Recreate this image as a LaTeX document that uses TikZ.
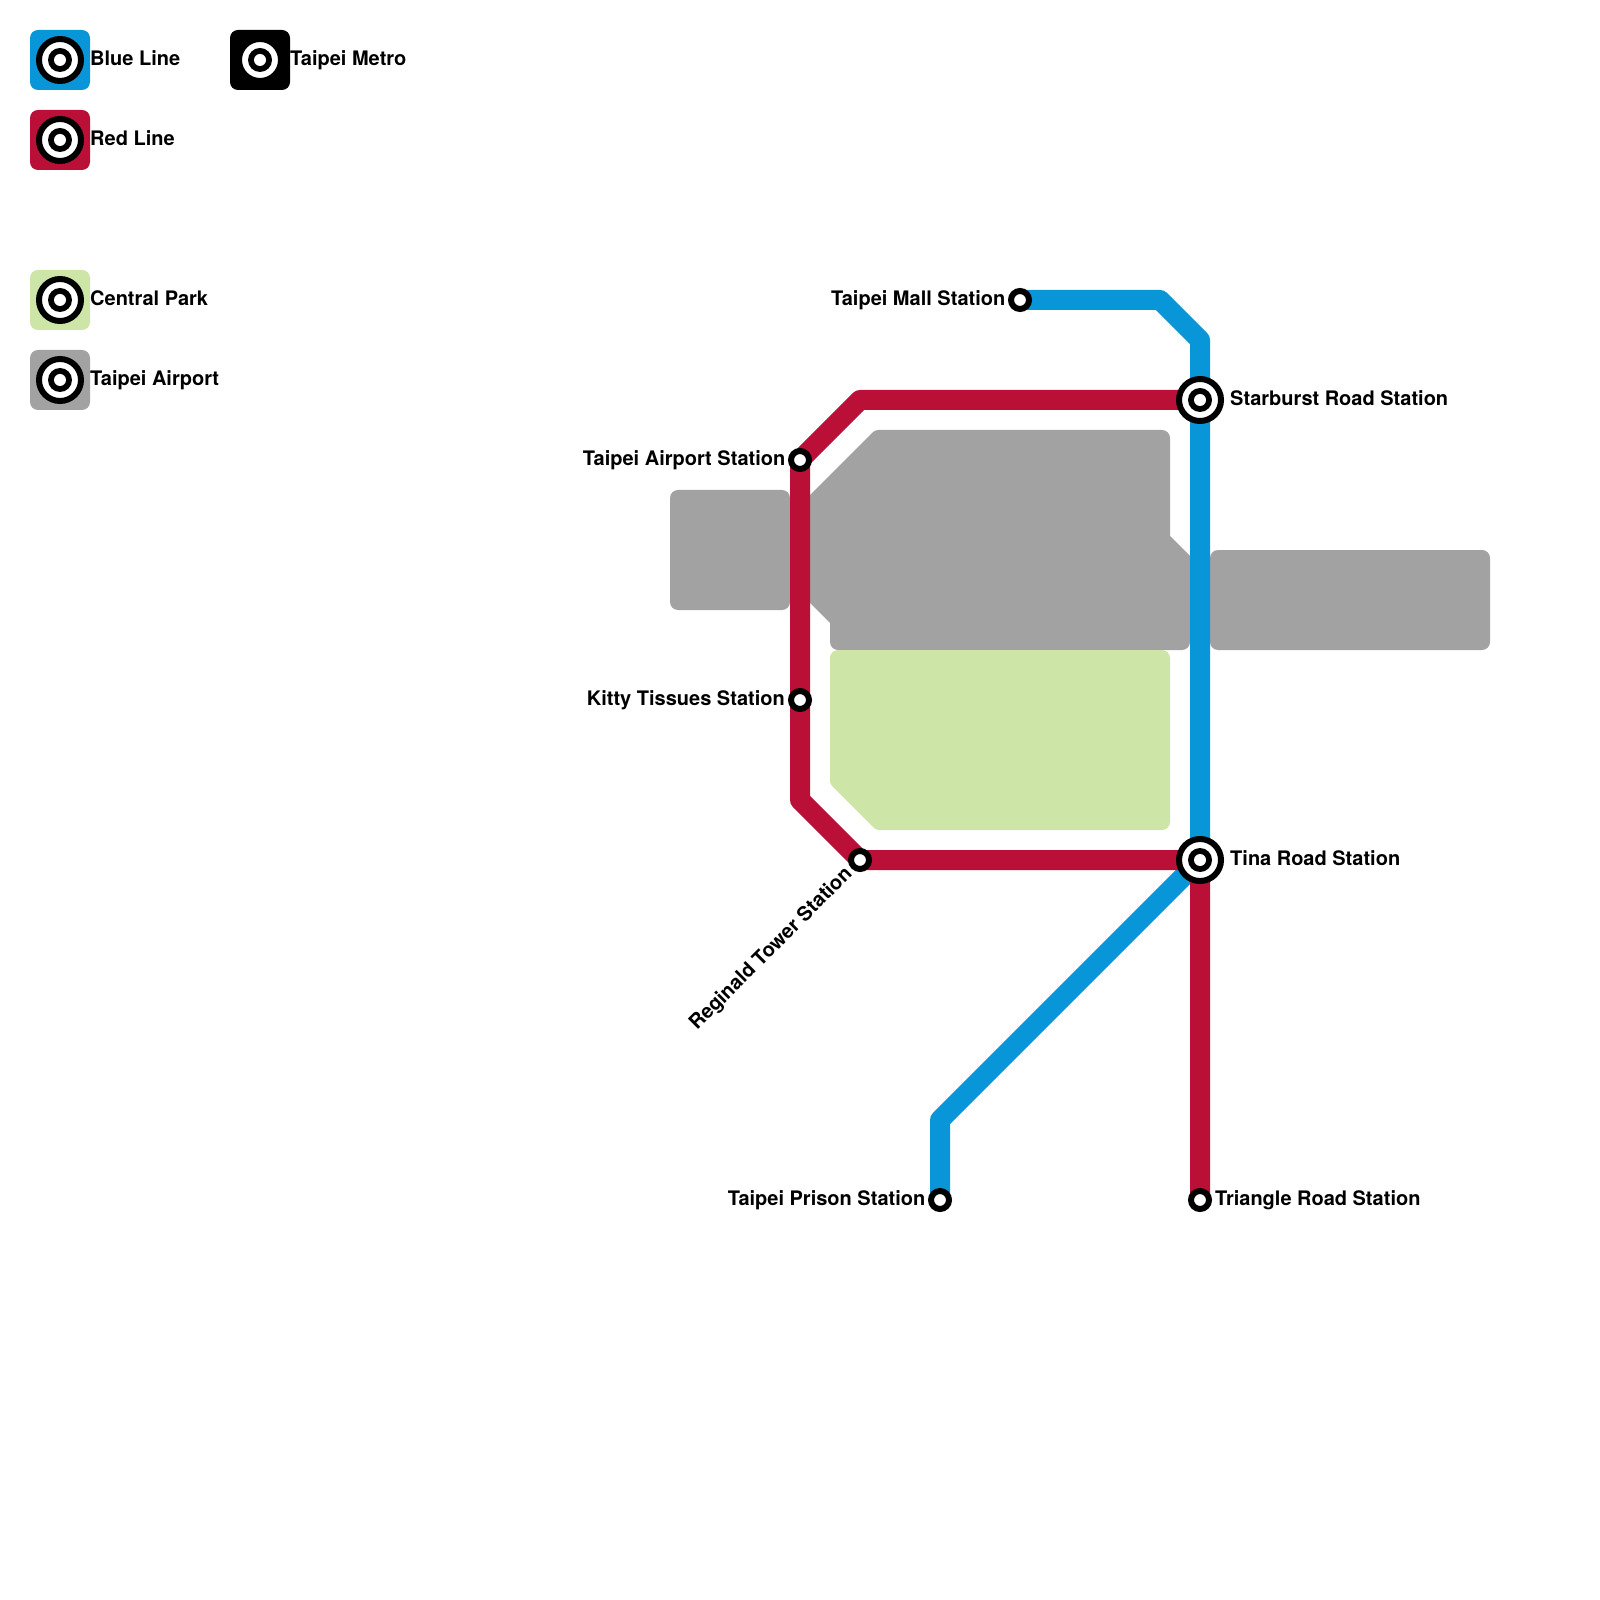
\documentclass[tikz,border=0pt]{standalone}
\usepackage{fontspec}
\setmainfont{TeX Gyre Heros}
\usetikzlibrary{backgrounds}
\definecolor{lineblue}{HTML}{0996D8}
\definecolor{linered}{HTML}{BA1038}
\definecolor{parkgreen}{HTML}{CDE5A6}
\definecolor{airportgray}{HTML}{A2A2A2}
\begin{document}
\begin{tikzpicture}[
  font=\fontsize{5.69pt}{6.8pt}\selectfont\bfseries,
  key/.style={rectangle, rounded corners=0.08cm, minimum size=0.6cm, inner sep=0pt},
  hub/.style={circle, draw=black, line width=0.06cm, fill=white, minimum size=0.42cm, inner sep=0pt,
              path picture={\fill[black] (path picture bounding box.center) circle (0.12);
                            \fill[white] (path picture bounding box.center) circle (0.06);}},
  stop/.style={circle, draw=black, line width=0.06cm, fill=white, minimum size=0.18cm, inner sep=0pt},
  lbl/.style={inner sep=0pt, anchor=base west},
  lblr/.style={inner sep=0pt, anchor=base east},
  track/.style={line width=0.2cm, line join=round},
  area/.style={rounded corners=0.08cm}
]
\useasboundingbox (0,0) rectangle (16,-16);
% legend, lines on the left and areas below them
\node[key, fill=lineblue]    (kblue) at (0.6,-0.6) {};
\node[key, fill=linered]     (kred)  at (0.6,-1.4) {};
\node[key, fill=black]       (kmetro) at (2.6,-0.6) {};
\node[key, fill=parkgreen]   (kpark) at (0.6,-3.0) {};
\node[key, fill=airportgray] (kair)  at (0.6,-3.8) {};
\node[hub] (hblue)  at (kblue)  {};
\node[hub] (hred)   at (kred)   {};
\node[hub] (hmetro) at (kmetro) {};
\node[hub] (hpark)  at (kpark)  {};
\node[hub] (hair)   at (kair)   {};
\node[lbl] (tblue)  at (0.895,-0.653) {Blue Line};
\node[lbl] (tred)   at (0.895,-1.453) {Red Line};
\node[lbl] (tmetro) at (2.895,-0.653) {Taipei Metro};
\node[lbl] (tpark)  at (0.895,-3.053) {Central Park};
\node[lbl] (tair)   at (0.895,-3.853) {Taipei Airport};
% stations
\node[stop] (mall)     at (10.2,-3.0)  {};
\node[hub]  (starburst) at (12.0,-4.0) {};
\node[stop] (airport)  at (8.0,-4.6)   {};
\node[stop] (kitty)    at (8.0,-7.0)   {};
\node[stop] (reginald) at (8.6,-8.6)   {};
\node[hub]  (tina)     at (12.0,-8.6)  {};
\node[stop] (prison)   at (9.4,-12.0)  {};
\node[stop] (triangle) at (12.0,-12.0) {};
\node[lblr] (lmall)     at (10.06,-3.053)  {Taipei Mall Station};
\node[lbl]  (lstarburst) at (12.295,-4.053) {Starburst Road Station};
\node[lblr] (lairport)  at (7.86,-4.653)   {Taipei Airport Station};
\node[lblr] (lkitty)    at (7.855,-7.053)  {Kitty Tissues Station};
\node[lblr, rotate=45] (lreginald) at (8.535,-8.745) {Reginald Tower Station};
\node[lbl]  (ltina)     at (12.295,-8.653) {Tina Road Station};
\node[lblr] (lprison)   at (9.26,-12.053)  {Taipei Prison Station};
\node[lbl]  (ltriangle) at (12.145,-12.053) {Triangle Road Station};
% bends of the two lines
\coordinate (b1) at (11.6,-3.0);
\coordinate (b2) at (12.0,-3.4);
\coordinate (b3) at (9.4,-11.2);
\coordinate (r1) at (8.6,-4.0);
\coordinate (r2) at (8.0,-8.0);
\begin{scope}[on background layer]
\fill[area, airportgray] (6.7,-4.9) rectangle (7.9,-6.1);
\fill[area, airportgray] (12.1,-5.5) rectangle (14.9,-6.5);
\fill[airportgray] (10,-4.3) [rounded corners=0.08cm] -- (11.7,-4.3) [sharp corners] -- (11.7,-5.36) -- (11.9,-5.56)
      [rounded corners=0.08cm] -- (11.9,-6.5) -- (8.3,-6.5) [sharp corners] -- (8.3,-6.23) -- (8.1,-6.03)
      -- (8.1,-4.95) [rounded corners=0.03cm] -- (8.75,-4.3) -- cycle;
\fill[parkgreen] (10,-6.5) [rounded corners=0.08cm] -- (11.7,-6.5) -- (11.7,-8.3) [rounded corners=0.03cm] -- (8.76,-8.3)
      -- (8.3,-7.84) [rounded corners=0.08cm] -- (8.3,-6.5) -- cycle;
\draw[track, lineblue] (mall.center) -- (b1) -- (b2) -- (tina.center) -- (b3) -- (prison.center);
\draw[track, linered] (starburst.center) -- (r1) -- (airport.center) -- (kitty.center) -- (r2)
      -- (reginald.center) -- (tina.center) -- (triangle.center);
\end{scope}
\end{tikzpicture}
\end{document}
